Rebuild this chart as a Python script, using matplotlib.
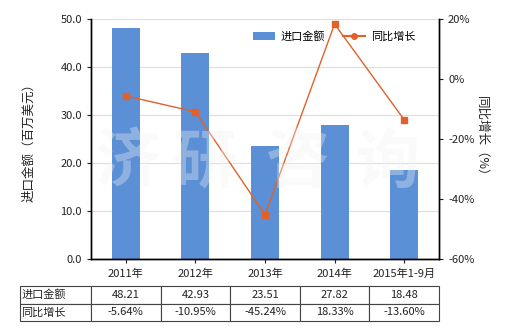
import matplotlib
matplotlib.use('Agg')
import matplotlib.pyplot as plt
from matplotlib.patches import Patch
from matplotlib.lines import Line2D

plt.rcParams['font.family'] = ['Noto Sans CJK SC', 'DejaVu Sans']

years = ['2011年', '2012年', '2013年', '2014年', '2015年1-9月']
import_value = [48.21, 42.93, 23.51, 27.82, 18.48]
growth = [-5.64, -10.95, -45.24, 18.33, -13.60]
value_labels = ['48.21', '42.93', '23.51', '27.82', '18.48']
growth_labels = ['-5.64%', '-10.95%', '-45.24%', '18.33%', '-13.60%']

bar_color = '#5B8FD6'
line_color = '#E0622A'
text_color = '#222222'

fig = plt.figure(figsize=(5.2, 3.3), dpi=100)
ax = fig.add_axes([91 / 520, 1 - 259 / 330, 348 / 520, 240 / 330])
ax2 = ax.twinx()

x = list(range(len(years)))
ax.bar(x, import_value, width=0.4, color=bar_color, zorder=2)
ax.set_ylim(0, 50)
ax.set_xlim(-0.5, len(years) - 0.5)
ax.set_yticks([0, 10, 20, 30, 40, 50])
ax.set_yticklabels([f'{v:.1f}' for v in [0, 10, 20, 30, 40, 50]])
ax.grid(axis='y', color='#D5E1E6', linewidth=0.8, zorder=0)
ax.set_axisbelow(True)
ax.set_xticks(x)
ax.set_xticklabels(years)
ax.tick_params(axis='both', labelsize=8, colors=text_color, length=3)
ax.tick_params(axis='x', pad=4)
ax.set_ylabel('进口金额（百万美元）', fontsize=9, color=text_color, labelpad=18)

ax2.plot(x, growth, color=line_color, linewidth=1, marker='s', markersize=4, zorder=4)
ax2.set_ylim(-60, 20)
ax2.set_yticks([-60, -40, -20, 0, 20])
ax2.set_yticklabels([f'{v}%' for v in [-60, -40, -20, 0, 20]])
ax2.tick_params(axis='y', labelsize=8, colors=text_color, length=3)
ax2.set_ylabel('同比增长（%）', fontsize=9, color=text_color, rotation=270, labelpad=10)

for a in (ax, ax2):
    a.spines['top'].set_visible(False)
    for s in ('left', 'right', 'bottom'):
        a.spines[s].set_color('#000000')
        a.spines[s].set_linewidth(1)

# watermark, drawn over bars and line
for ch, xf in zip('济研咨询', [0.106, 0.325, 0.595, 0.853]):
    ax2.text(xf, 0.40, ch, transform=ax2.transAxes, fontsize=46, color='#F2F2F2',
             alpha=0.35, ha='center', va='center', zorder=5, fontweight='bold')

handles = [Patch(facecolor=bar_color), Line2D([0], [0], color=line_color, linewidth=1.5,
                                               marker='o', markersize=4)]
ax2.legend(handles, ['进口金额', '同比增长'], loc='upper left', bbox_to_anchor=(0.436, 0.99),
           ncol=2, frameon=False, fontsize=8, handlelength=2, columnspacing=1.6,
           handletextpad=0.5)

# data table
cell_text = [['进口金额'] + value_labels, ['同比增长'] + growth_labels]
left_frac = (20 - 91) / 348
table = ax.table(cellText=cell_text, colWidths=[71 / 348] + [69.6 / 348] * 5,
                 bbox=[left_frac, (259 - 321) / 240, (439 - 20) / 348, 35 / 240],
                 cellLoc='center')
table.auto_set_font_size(False)
for (r, c), cell in table.get_celld().items():
    cell.set_edgecolor('#444444')
    cell.set_linewidth(0.8)
    cell.get_text().set_fontsize(8)
    cell.get_text().set_color(text_color)
    if c == 0:
        cell.get_text().set_ha('left')
        cell.PAD = 0.02

fig.savefig('out.png', dpi=100)
